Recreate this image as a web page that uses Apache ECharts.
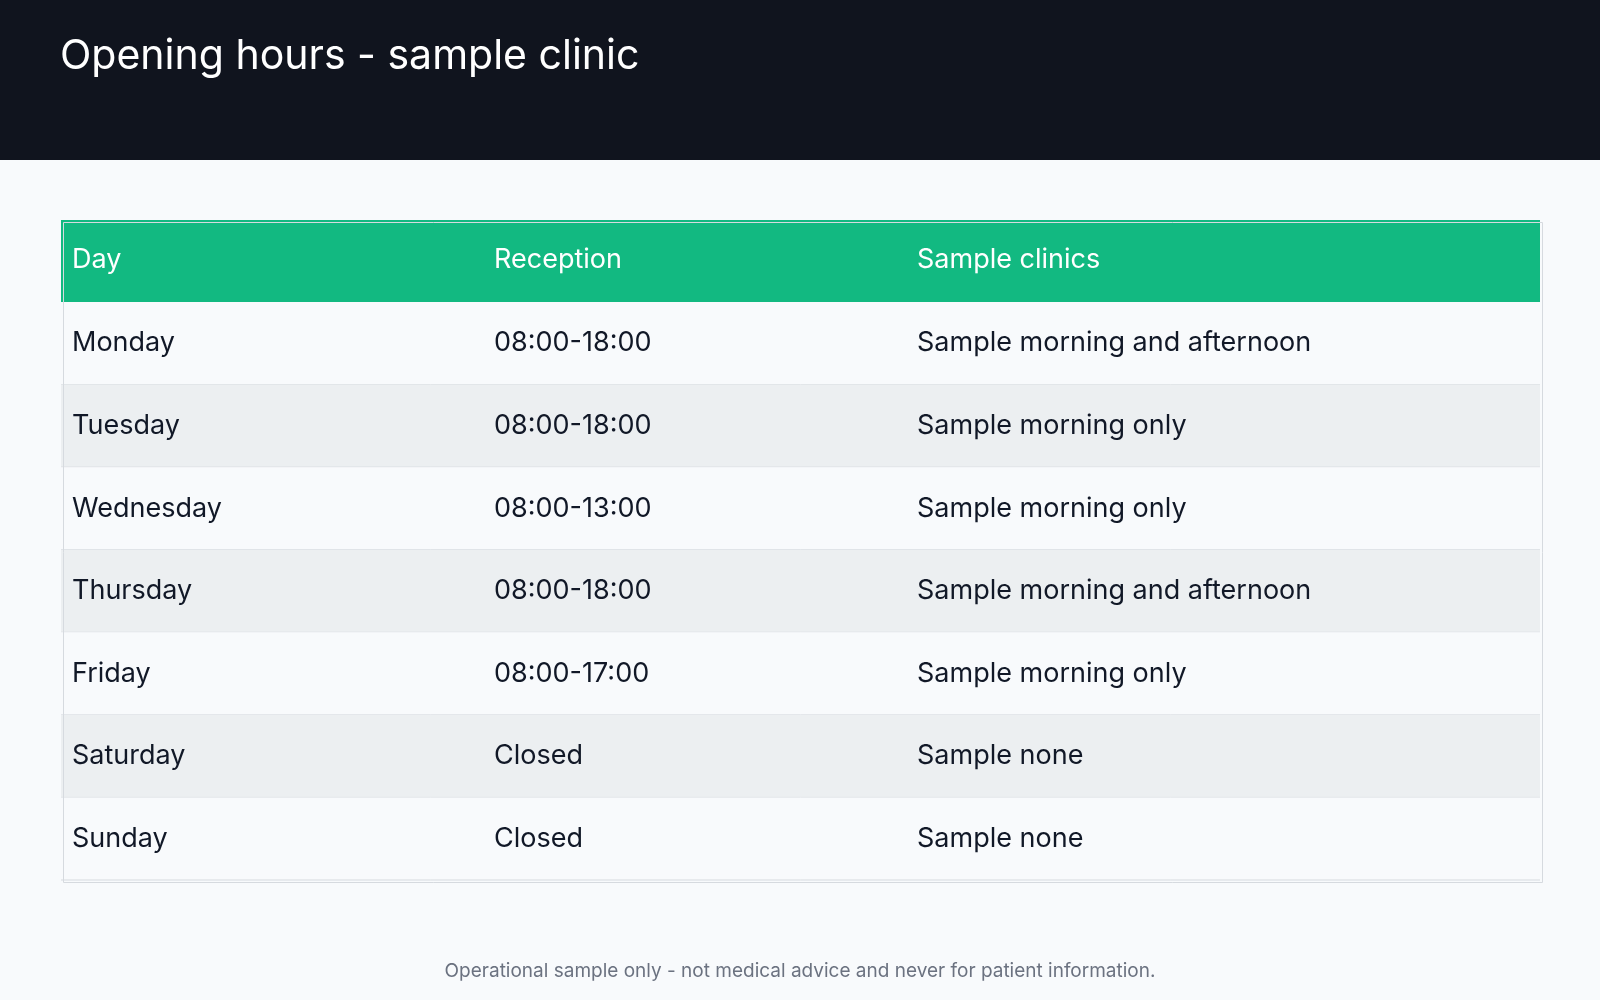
<!DOCTYPE html>
<html>
<head>
<meta charset="utf-8">
<script src="https://cdn.jsdelivr.net/npm/echarts@6/dist/echarts.min.js"></script>
<style>
  html, body { margin: 0; padding: 0; background: #f8fafc; }
  #chart { width: 1600px; height: 1000px; }
</style>
</head>
<body>
<div id="chart"></div>
<script>
const title = "Opening hours - sample clinic";
const footnote = "Operational sample only - not medical advice and never for patient information.";
const columns = ["Day", "Reception", "Sample clinics"];
const days = ["Monday", "Tuesday", "Wednesday", "Thursday", "Friday", "Saturday", "Sunday"];
const reception = ["08:00-18:00", "08:00-18:00", "08:00-13:00", "08:00-18:00", "08:00-17:00", "Closed", "Closed"];
const clinics = [
  "Sample morning and afternoon",
  "Sample morning only",
  "Sample morning only",
  "Sample morning and afternoon",
  "Sample morning only",
  "Sample none",
  "Sample none",
];

const font = "Inter, 'Noto Sans', sans-serif";
const colOffsets = [11, 433, 856];
const tableLeft = 61;
const tableRight = 60;
const tableTop = 220;
const headerHeight = 82;
const tableBottom = 120;

const chart = echarts.init(document.getElementById("chart"));

const rows = days.map((d, i) => [0, i, d, reception[i], clinics[i]]);

chart.setOption({
  animation: false,
  backgroundColor: "#f8fafc",
  grid: { left: tableLeft, right: tableRight, top: tableTop + headerHeight, bottom: tableBottom },
  xAxis: { type: "value", min: 0, max: 1, show: false },
  yAxis: { type: "category", data: days, inverse: true, show: false },
  graphic: [
    { type: "rect", left: 0, top: 0, shape: { width: 1600, height: 160 }, style: { fill: "#10141e" } },
    {
      type: "text", left: 60, top: 36,
      style: { text: title, fill: "#ffffff", font: "400 41px " + font },
    },
    {
      type: "rect", left: tableLeft, top: tableTop,
      shape: { width: 1600 - tableLeft - tableRight, height: headerHeight },
      style: { fill: "#12b981" },
    },
    ...columns.map((c, i) => ({
      type: "text", left: tableLeft + colOffsets[i], top: tableTop + headerHeight / 2 - 15,
      style: { text: c, fill: "#ffffff", font: "400 27px " + font },
    })),
    {
      type: "rect", left: tableLeft, top: tableTop, z: 100,
      shape: { width: 1600 - tableLeft - tableRight, height: 1000 - tableBottom - tableTop },
      style: { fill: "none", stroke: "#d6dadf", lineWidth: 1 },
    },
    {
      type: "text", left: "center", top: 962,
      style: { text: footnote, fill: "#6b7280", font: "400 19px " + font },
    },
  ],
  series: [
    {
      type: "custom",
      data: rows,
      renderItem: (params, api) => {
        const cs = params.coordSys;
        const idx = api.value(1);
        const rowH = api.size([0, 1])[1];
        const cy = api.coord([0, idx])[1];
        const top = cy - rowH / 2;
        const children = [
          {
            type: "rect",
            shape: { x: cs.x, y: top, width: cs.width, height: rowH },
            style: { fill: idx % 2 === 1 ? "#eceff1" : "#f8fafc" },
          },
          {
            type: "line",
            shape: { x1: cs.x, y1: top + rowH, x2: cs.x + cs.width, y2: top + rowH },
            style: { stroke: "#d6dadf", lineWidth: 1 },
          },
        ];
        [2, 3, 4].forEach((dim, j) => {
          children.push({
            type: "text",
            x: cs.x + colOffsets[j],
            y: cy,
            style: {
              text: api.value(dim),
              fill: "#111827",
              font: "400 27px " + font,
              verticalAlign: "middle",
            },
          });
        });
        return { type: "group", children };
      },
    },
  ],
});
</script>
</body>
</html>
